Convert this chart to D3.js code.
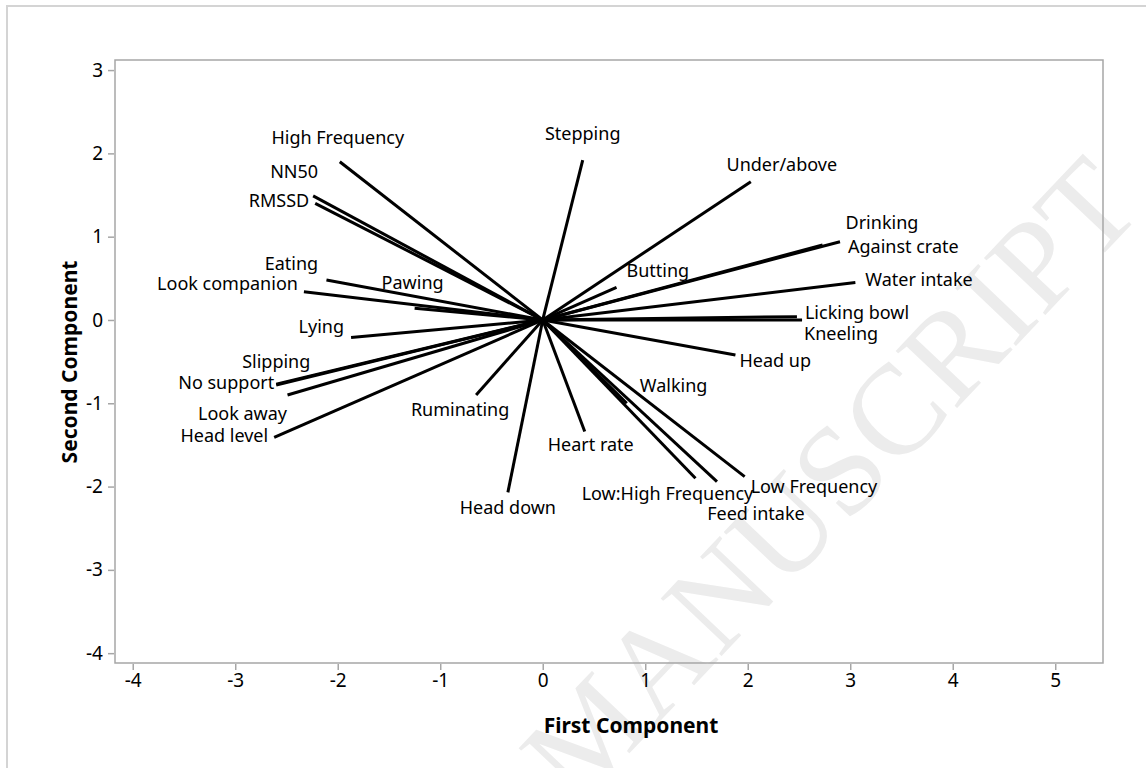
<!DOCTYPE html>
<html>
<head>
<meta charset="utf-8">
<script src="https://cdn.jsdelivr.net/npm/d3@7/dist/d3.min.js"></script>
<style>
  body { margin: 0; background: #fff; }
  text { font-family: "Noto Sans", "Open Sans", sans-serif; }
</style>
</head>
<body>
<svg id="chart" width="1146" height="768"></svg>
<script>
// loading plot
var variables = ["High Frequency", "NN50", "RMSSD", "Eating", "Look companion", "Pawing", "Lying",
  "Slipping", "No support", "Look away", "Head level", "Ruminating", "Head down", "Stepping",
  "Under/above", "Drinking", "Against crate", "Butting", "Water intake", "Licking bowl", "Kneeling",
  "Head up", "Walking", "Heart rate", "Low:High Frequency", "Feed intake", "Low Frequency"];
var firstComp = [-1.98, -2.24, -2.22, -2.11, -2.33, -1.25, -1.87,
  -2.60, -2.60, -2.49, -2.62, -0.65, -0.34, 0.39,
  2.03, 2.73, 2.90, 0.72, 3.05, 2.48, 2.53,
  1.88, 0.82, 0.41, 1.49, 1.70, 1.97];
var secondComp = [1.90, 1.49, 1.40, 0.48, 0.34, 0.14, -0.21,
  -0.77, -0.78, -0.90, -1.41, -0.90, -2.07, 1.92,
  1.66, 0.90, 0.94, 0.39, 0.45, 0.04, 0.00,
  -0.42, -1.00, -1.34, -1.90, -1.94, -1.88];
var xTicks = [-4, -3, -2, -1, 0, 1, 2, 3, 4, 5];
var yTicks = [-4, -3, -2, -1, 0, 1, 2, 3];

// where each label sits relative to the end of its line
var labelPos = {
  "High Frequency": ["middle", -2, -24],
  "NN50": ["middle", -19, -24],
  "RMSSD": ["end", -6, -3],
  "Eating": ["middle", -35, -16],
  "Look companion": ["end", -6, -8],
  "Pawing": ["middle", -2, -26],
  "Lying": ["end", -7, -11],
  "Slipping": ["middle", 0, -22],
  "No support": ["end", -2, -2],
  "Look away": ["middle", -45, 19],
  "Head level": ["end", -6, -2],
  "Ruminating": ["middle", -16, 15],
  "Head down": ["middle", 0, 15],
  "Stepping": ["middle", 0, -26],
  "Under/above": ["middle", 31, -17],
  "Drinking": ["start", 23, -22],
  "Against crate": ["start", 8, 5],
  "Butting": ["start", 10, -17],
  "Water intake": ["start", 10, -3],
  "Licking bowl": ["start", 8, -4],
  "Kneeling": ["start", 2, 14],
  "Head up": ["start", 4, 6],
  "Walking": ["start", 13, -18],
  "Heart rate": ["middle", 6, 13],
  "Low:High Frequency": ["middle", -28, 15],
  "Feed intake": ["middle", 39, 32],
  "Low Frequency": ["start", 6, 10]
};

var svg = d3.select("#chart");
var plotL = 115, plotR = 1103, plotT = 60, plotB = 663;

var x = d3.scaleLinear().domain([-4.173, 5.466]).range([plotL, plotR]);
var y = d3.scaleLinear().domain([-4.118, 3.121]).range([plotB, plotT]);

// outer figure border
svg.append("rect")
  .attr("x", 7).attr("y", 6).attr("width", 1160).attr("height", 780)
  .attr("fill", "none").attr("stroke", "#d4d4d4").attr("stroke-width", 2);

// watermark
svg.append("text")
  .attr("transform", "translate(1145,210) rotate(-46.5)")
  .attr("text-anchor", "end")
  .style("font-family", "'Liberation Serif', 'DejaVu Serif', serif")
  .style("font-size", "128px")
  .attr("fill", "#ececec")
  .text("ACCEPTED MANUSCRIPT");

// plot frame
svg.append("rect")
  .attr("x", plotL).attr("y", plotT).attr("width", plotR - plotL).attr("height", plotB - plotT)
  .attr("fill", "none").attr("stroke", "#a6a6a6").attr("stroke-width", 1.5);

var xAxis = svg.append("g")
  .attr("transform", "translate(0," + (plotB + 1) + ")")
  .call(d3.axisBottom(x).tickValues(xTicks).tickSize(6).tickPadding(4).tickFormat(d3.format("d")));
var yAxis = svg.append("g")
  .attr("transform", "translate(" + (plotL - 1) + ",0)")
  .call(d3.axisLeft(y).tickValues(yTicks).tickSize(6).tickPadding(5).tickFormat(d3.format("d")));

[xAxis, yAxis].forEach(function (ax) {
  ax.select(".domain").remove();
  ax.selectAll(".tick line").attr("stroke", "#a6a6a6").attr("stroke-width", 1.5);
  ax.selectAll(".tick text")
    .style("font-size", "19px")
    .attr("fill", "#000");
});
// minus signs as plain hyphens like the original
svg.selectAll(".tick text").text(function (d) { return String(d); });

// axis titles
svg.append("text")
  .attr("x", 631).attr("y", 733)
  .attr("text-anchor", "middle")
  .style("font-size", "21px").style("font-weight", "bold")
  .text("First Component");
svg.append("text")
  .attr("transform", "translate(77,362) rotate(-90)")
  .attr("text-anchor", "middle")
  .style("font-size", "21px").style("font-weight", "bold")
  .text("Second Component");

var rows = variables.map(function (v, i) {
  return { name: v, pc1: firstComp[i], pc2: secondComp[i] };
});

var g = svg.append("g");
g.selectAll("line.load")
  .data(rows)
  .enter()
  .append("line")
  .attr("class", "load")
  .attr("x1", x(0)).attr("y1", y(0))
  .attr("x2", function (d) { return x(d.pc1); })
  .attr("y2", function (d) { return y(d.pc2); })
  .attr("stroke", "#000")
  .attr("stroke-width", 3);

g.selectAll("text.lab")
  .data(rows)
  .enter()
  .append("text")
  .attr("class", "lab")
  .attr("x", function (d) { return x(d.pc1) + labelPos[d.name][1]; })
  .attr("y", function (d) { return y(d.pc2) + labelPos[d.name][2]; })
  .attr("dy", "0.35em")
  .attr("text-anchor", function (d) { return labelPos[d.name][0]; })
  .style("font-size", "18px")
  .text(function (d) { return d.name; });
</script>
</body>
</html>
